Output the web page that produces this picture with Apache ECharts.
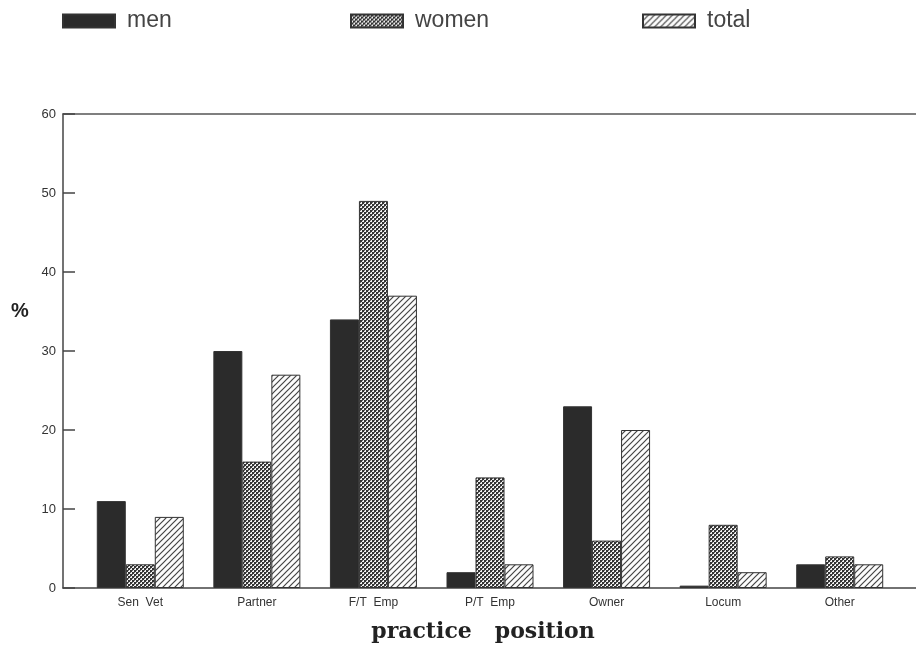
<!DOCTYPE html>
<html>
<head>
<meta charset="utf-8">
<script src="https://cdn.jsdelivr.net/npm/echarts@6/dist/echarts.min.js"></script>
<style>html,body{margin:0;padding:0;background:#fff}#c{width:916px;height:655px}</style>
</head>
<body>
<div id="c"></div>
<script>
const categories = ['Sen  Vet', 'Partner', 'F/T  Emp', 'P/T  Emp', 'Owner', 'Locum', 'Other'];
const men   = [11, 30, 34, 2, 23, 0.3, 3];
const women = [3, 16, 49, 14, 6, 8, 4];
const total = [9, 27, 37, 3, 20, 2, 3];
const yTicks = [0, 10, 20, 30, 40, 50, 60];

function checker() {
  const c = document.createElement('canvas'); c.width = 4; c.height = 4;
  const g = c.getContext('2d');
  g.fillStyle = '#f0f0f0'; g.fillRect(0, 0, 4, 4);
  g.fillStyle = '#333';
  g.fillRect(0, 0, 2, 2); g.fillRect(2, 2, 2, 2);
  g.fillStyle = '#666'; g.fillRect(2, 0, 1, 1); g.fillRect(0, 2, 1, 1);
  return c;
}
function hatch() {
  const s = 6;
  const c = document.createElement('canvas'); c.width = s; c.height = s;
  const g = c.getContext('2d');
  g.fillStyle = '#fcfcfc'; g.fillRect(0, 0, s, s);
  g.strokeStyle = '#444'; g.lineWidth = 1.2;
  g.beginPath();
  g.moveTo(-1, s + 1); g.lineTo(s + 1, -1);
  g.moveTo(-1, 1); g.lineTo(1, -1);
  g.moveTo(s - 1, s + 1); g.lineTo(s + 1, s - 1);
  g.stroke();
  return c;
}
const womenFill = { image: checker(), repeat: 'repeat' };
const totalFill = { image: hatch(), repeat: 'repeat' };

const chart = echarts.init(document.getElementById('c'), null, { renderer: 'canvas' });
const legendBase = {
  orient: 'horizontal', top: 8, padding: 0, icon: 'rect', itemWidth: 52, itemHeight: 13,
  itemGap: 12,
  textStyle: { fontFamily: 'Liberation Sans', fontSize: 23, color: '#444', lineHeight: 26, padding: [0, 0, 0, 7] }
};
const barStyle = { borderColor: '#333', borderWidth: 1 };
chart.setOption({
  animation: false,
  backgroundColor: '#fff',
  legend: [
    Object.assign({}, legendBase, { left: 62, data: ['men'] }),
    Object.assign({}, legendBase, { left: 350, data: ['women'] }),
    Object.assign({}, legendBase, { left: 642, data: ['total'] })
  ],
  graphic: [
    { type: 'text', left: 11, top: 301, style: { text: '%', font: 'bold 20px "Liberation Sans"', fill: '#222' } }
  ],
  grid: [
    { left: 82, right: 18, top: 114, bottom: 67 },
    { left: 63, right: 0, top: 114, bottom: 67 }
  ],
  xAxis: [
    {
      type: 'category', data: categories, gridIndex: 0,
      axisLine: { show: false }, axisTick: { show: false },
      axisLabel: { margin: 9, fontFamily: 'Liberation Sans', fontSize: 12, color: '#333' },
      name: 'practice   position', nameLocation: 'middle', nameGap: 33,
      nameTextStyle: { fontFamily: 'DejaVu Serif', fontWeight: 'bold', fontSize: 22, color: '#222', padding: [0, 14, 0, 0] }
    },
    {
      type: 'value', gridIndex: 1, min: 0, max: 1, position: 'bottom',
      axisLine: { show: true, lineStyle: { color: '#444', width: 1.5 } },
      axisTick: { show: false }, axisLabel: { show: false }, splitLine: { show: false }
    },
    {
      type: 'value', gridIndex: 1, min: 0, max: 1, position: 'top',
      axisLine: { show: true, lineStyle: { color: '#555', width: 1.5 } },
      axisTick: { show: false }, axisLabel: { show: false }, splitLine: { show: false }
    }
  ],
  yAxis: [
    {
      type: 'value', gridIndex: 0, min: yTicks[0], max: yTicks[yTicks.length - 1], interval: 10,
      offset: 19,
      axisLine: { show: true, lineStyle: { color: '#444', width: 1.5 } },
      axisTick: { show: true, inside: true, length: 12, lineStyle: { color: '#444', width: 1.5 } },
      axisLabel: { margin: 7, fontFamily: 'Liberation Sans', fontSize: 13, color: '#333' },
      splitLine: { show: false }
    },
    { type: 'value', gridIndex: 1, min: 0, max: 1, show: false }
  ],
  series: [
    { name: 'men', type: 'bar', data: men, barWidth: 29, barGap: '0%', itemStyle: Object.assign({ color: '#2b2b2b' }, barStyle) },
    { name: 'women', type: 'bar', data: women, barWidth: 29, barGap: '0%', itemStyle: Object.assign({ color: womenFill }, barStyle) },
    { name: 'total', type: 'bar', data: total, barWidth: 29, barGap: '0%', itemStyle: Object.assign({ color: totalFill }, barStyle) }
  ]
});
</script>
</body>
</html>
